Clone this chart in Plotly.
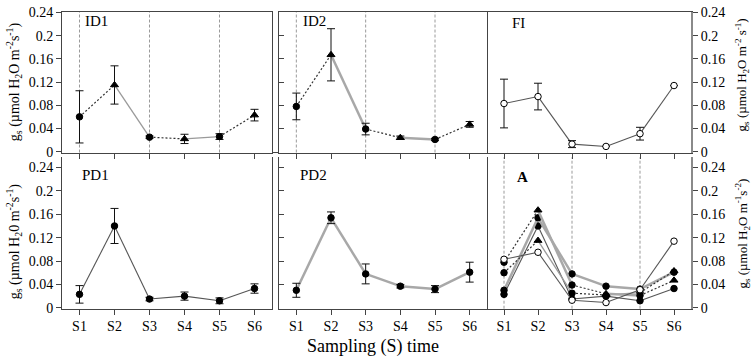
import plotly.graph_objects as go

# ---------------- data ----------------
cats = ["S1", "S2", "S3", "S4", "S5", "S6"]

id1 = [0.060, 0.115, 0.025, 0.022, 0.026, 0.063]
id1_err = [0.045, 0.033, 0.002, 0.008, 0.005, 0.010]

id2 = [0.078, 0.167, 0.039, 0.024, 0.021, 0.047]
id2_err = [0.023, 0.045, 0.010, 0.003, 0.002, 0.005]

fi = [0.083, 0.095, 0.013, 0.009, 0.031, 0.114]
fi_err = [0.042, 0.023, 0.006, 0.0, 0.011, 0.0]

pd1 = [0.023, 0.140, 0.015, 0.020, 0.012, 0.033]
pd1_err = [0.015, 0.030, 0.003, 0.007, 0.005, 0.008]

pd2 = [0.030, 0.154, 0.058, 0.037, 0.032, 0.061]
pd2_err = [0.012, 0.010, 0.017, 0.003, 0.006, 0.017]

ref_samples = ["S1", "S3", "S5"]
y_ticks = [0, 0.04, 0.08, 0.12, 0.16, 0.2, 0.24]
y_tick_text = ["0", "0.04", "0.08", "0.12", "0.16", "0.2", "0.24"]

# ---------------- styles ----------------
FONT = "Liberation Serif, Times New Roman, Times, serif"
W, H = 752, 361
DOT = dict(color="#333333", width=1.2, dash="2px,2px")
id_markers = ["circle", "triangle-up"] * 3
id_dash = ["dot", "solid", "dot", "solid", "dot"]

series = {
    "ID1": dict(y=id1, e=id1_err, sym=id_markers, fill="black",
                solid=dict(color="#9a9a9a", width=1.3), dash=id_dash),
    "ID2": dict(y=id2, e=id2_err, sym=id_markers, fill="black",
                solid=dict(color="#a8a8a8", width=2.5), dash=id_dash),
    "FI": dict(y=fi, e=fi_err, sym=["circle"] * 6, fill="white",
               solid=dict(color="#555555", width=1.1), dash=["solid"] * 5),
    "PD1": dict(y=pd1, e=pd1_err, sym=["circle"] * 6, fill="black",
                solid=dict(color="#555555", width=1.1), dash=["solid"] * 5),
    "PD2": dict(y=pd2, e=pd2_err, sym=["circle"] * 6, fill="black",
                solid=dict(color="#a8a8a8", width=2.5), dash=["solid"] * 5),
}


def xd(a, b):
    return [a / W, b / W]


def yd(top, bottom):
    return [1 - bottom / H, 1 - top / H]


fig = go.Figure()


def add_series(name, axn, errors=True):
    s = series[name]
    xa = "x" if axn == 1 else f"x{axn}"
    ya = "y" if axn == 1 else f"y{axn}"
    for i in range(len(cats) - 1):
        ln = DOT if s["dash"][i] == "dot" else s["solid"]
        fig.add_trace(go.Scatter(x=cats[i:i + 2], y=s["y"][i:i + 2], mode="lines",
                                 line=ln, xaxis=xa, yaxis=ya, hoverinfo="skip"))
    sizes = [7 if t.startswith("triangle") else 6.5 for t in s["sym"]]
    kw = {}
    if errors:
        kw["error_y"] = dict(type="data", array=s["e"], visible=True,
                             color="#111111", thickness=1, width=4)
    fig.add_trace(go.Scatter(x=cats, y=s["y"], mode="markers", xaxis=xa, yaxis=ya,
                             marker=dict(symbol=s["sym"], size=sizes, color=s["fill"],
                                         opacity=1,
                                         line=dict(color="black", width=1)), **kw))


panels = [(1, "ID1"), (2, "ID2"), (3, "FI"), (4, "PD1"), (5, "PD2")]
for axn, name in panels:
    add_series(name, axn)
for name in ["PD1", "PD2", "ID1", "ID2", "FI"]:
    add_series(name, 6, errors=False)

top_dom = yd(6, 152)
bot_dom = yd(157, 314)
top_rng = [-0.0015, 0.2412]
bot_rng = [-0.0015, 157 / 610]

axis_x = dict(type="category", categoryorder="array", categoryarray=cats,
              range=[-0.5, 5.5], showline=True, linecolor="#444444", linewidth=1,
              ticks="outside", ticklen=5, tickcolor="#444444", showgrid=False,
              zeroline=False, tickfont=dict(family=FONT, size=14, color="black"))
axis_y = dict(showline=True, linecolor="#444444", linewidth=1, showgrid=False,
              zeroline=False, tickvals=y_ticks, ticktext=y_tick_text,
              ticks="outside", ticklen=5, ticklabeloverflow="allow",
              tickcolor="#444444", tickfont=dict(family=FONT, size=14, color="black"))

layout_axes = {}
cfg = {
    1: dict(xdom=xd(62, 272), ydom=top_dom, yr=top_rng, xmir=True, ylab=True, side="left"),
    2: dict(xdom=xd(279, 487), ydom=top_dom, yr=top_rng, xmir=True, ylab=False, side="left"),
    3: dict(xdom=xd(487, 691), ydom=top_dom, yr=top_rng, xmir=True, ylab=True, side="right"),
    4: dict(xdom=xd(62, 272), ydom=bot_dom, yr=bot_rng, xmir=False, ylab=True, side="left"),
    5: dict(xdom=xd(279, 487), ydom=bot_dom, yr=bot_rng, xmir=False, ylab=False, side="left"),
    6: dict(xdom=xd(487, 691), ydom=bot_dom, yr=bot_rng, xmir=False, ylab=True, side="right"),
}
for n, c in cfg.items():
    xk = "xaxis" if n == 1 else f"xaxis{n}"
    yk = "yaxis" if n == 1 else f"yaxis{n}"
    ax = dict(axis_x, domain=c["xdom"], anchor="y" if n == 1 else f"y{n}",
              mirror=c["xmir"], showticklabels=(n >= 4))
    ay = dict(axis_y, domain=c["ydom"], range=c["yr"], anchor="x" if n == 1 else f"x{n}",
              side=c["side"], showticklabels=c["ylab"])
    if c["side"] == "left":
        ay["mirror"] = True
    else:
        ay["linecolor"] = "#8a8a8a"
        ay["linewidth"] = 2
    if not c["ylab"]:
        ay["ticks"] = "inside"
    layout_axes[xk] = ax
    layout_axes[yk] = ay

shapes = []
for n in [1, 2, 6]:
    xr = "x" if n == 1 else f"x{n}"
    yr = "y" if n == 1 else f"y{n}"
    for s in ref_samples:
        i = cats.index(s)
        shapes.append(dict(type="line", xref=xr, yref=f"{yr} domain", x0=i, x1=i,
                           y0=0, y1=1, line=dict(color="#9a9a9a", width=1, dash="3px,2px"),
                           layer="below"))
# continuous baseline across the gap between the top-row panels
shapes.append(dict(type="line", xref="paper", yref="y domain", x0=272 / W, x1=279 / W,
                   y0=0, y1=0, line=dict(color="#444444", width=1)))


def ann(text, x, y, size=14, angle=0, bold=False, xanchor="center"):
    t = f"<b>{text}</b>" if bold else text
    return dict(text=t, x=x / W, y=1 - y / H, xref="paper", yref="paper", showarrow=False,
                textangle=angle, xanchor=xanchor, yanchor="middle",
                font=dict(family=FONT, size=size, color="black"))


annotations = [
    ann("ID1", 83, 16, size=15, xanchor="left"),
    ann("ID2", 301, 16, size=15, xanchor="left"),
    ann("FI", 510, 18, size=15, xanchor="left"),
    ann("PD1", 80, 175, size=15, xanchor="left"),
    ann("PD2", 298, 175, size=15, xanchor="left"),
    ann("A", 515, 177, size=15, bold=True, xanchor="left"),
    ann("g<sub>s</sub> (µmol H<sub>2</sub>O m<sup>-2</sup>s<sup>-1</sup>)", 14, 79, size=14, angle=-90),
    ann("g<sub>s</sub> (µmol H<sub>2</sub>0 m<sup>-2</sup>s<sup>-1</sup>)", 14, 244, size=14, angle=-90),
    ann("g<sub>s</sub> (µmol H<sub>2</sub>O m<sup>-2</sup> s<sup>-1</sup>)", 742, 72, size=13, angle=-90),
    ann("g<sub>s</sub> (µmol H<sub>2</sub>O m<sup>-1</sup>s<sup>-2</sup>)", 742, 236, size=13, angle=-90),
    ann("Sampling (S) time", 373, 353, size=18),
]

fig.update_layout(width=W, height=H, margin=dict(l=0, r=0, t=0, b=0),
                  paper_bgcolor="white", plot_bgcolor="white", showlegend=False,
                  font=dict(family=FONT),
                  shapes=shapes, annotations=annotations, **layout_axes)

fig.write_html("out.html")
